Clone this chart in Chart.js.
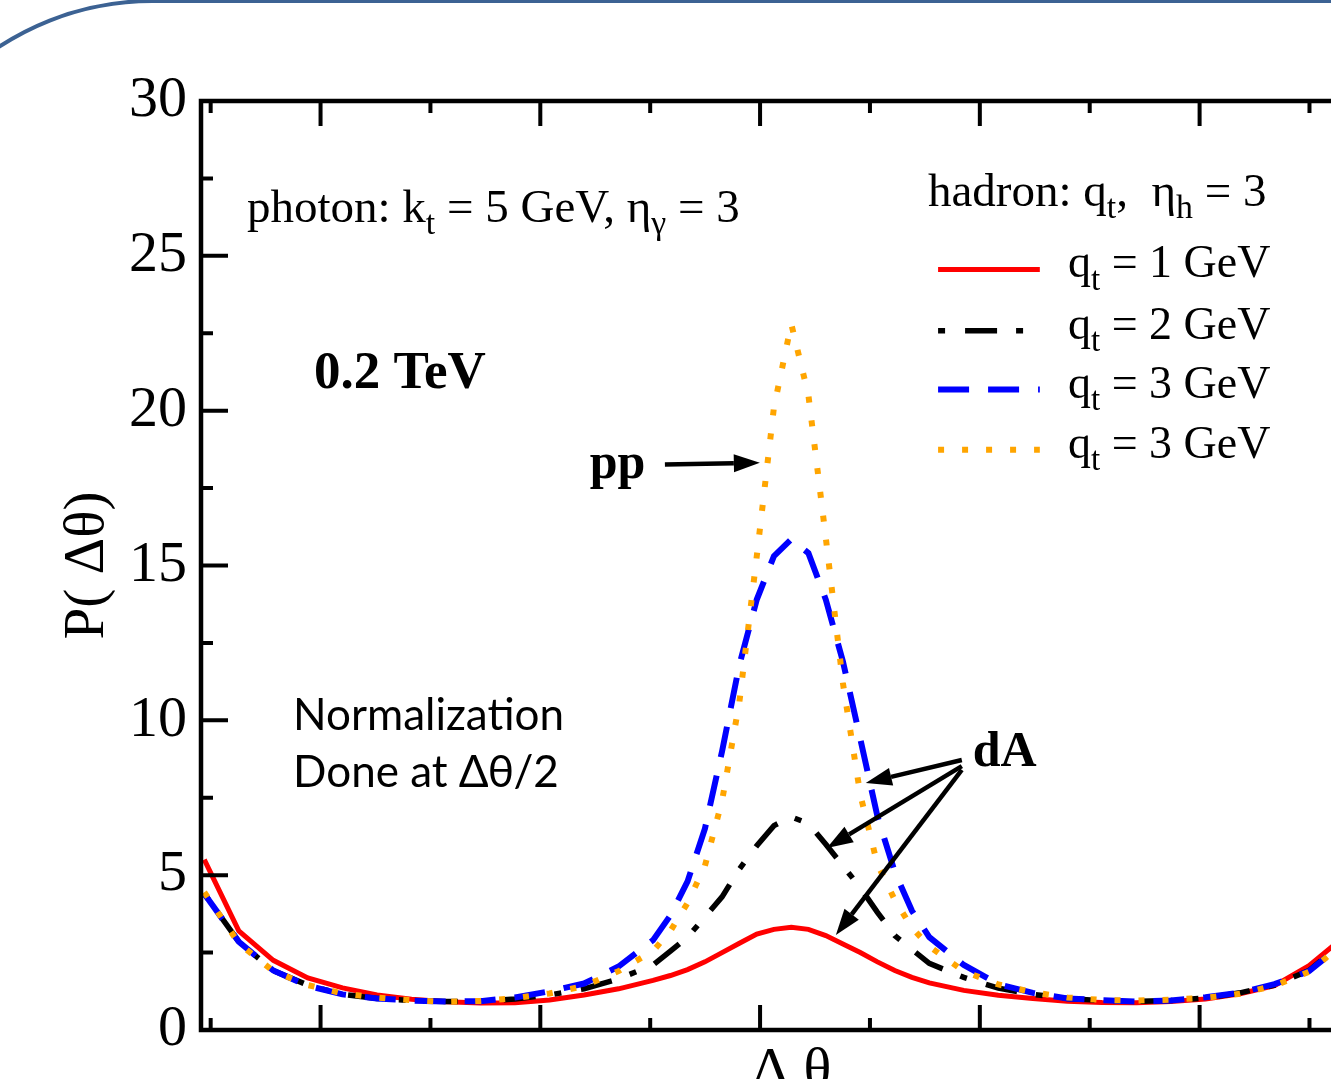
<!DOCTYPE html>
<html>
<head>
<meta charset="utf-8">
<script src="https://cdn.jsdelivr.net/npm/chart.js@4.4.1/dist/chart.umd.min.js"></script>
<style>
  html, body { margin: 0; padding: 0; overflow: hidden; background: #fff; }
  #wrap { position: relative; width: 1331px; height: 1079px; overflow: hidden; }
  #chart { position: absolute; left: 0; top: 0; }
  #frame { position: absolute; left: -128px; top: -1px; width: 3000px; height: 3000px;
           border: 4px solid #3c6293; border-top-left-radius: 280px; box-sizing: border-box; }
</style>
</head>
<body>
<div id="wrap">
  <canvas id="chart" width="1420" height="1160"></canvas>
  <div id="frame"></div>
</div>
<script>
// delta theta grid (rad)
const dTheta = [0.471,0.628,0.785,0.942,1.100,1.257,1.414,1.571,1.728,1.885,2.042,2.199,2.356,
  2.513,2.592,2.670,2.749,2.827,2.906,2.985,3.063,3.142,3.220,3.299,3.377,3.456,3.534,3.613,3.691,3.770,
  3.927,4.084,4.241,4.398,4.555,4.712,4.869,5.027,5.184,5.341,5.498,5.655,5.812];

// dA, qt = 1 GeV
const qt1 = [5.5,3.2,2.25,1.68,1.36,1.13,0.99,0.91,0.87,0.88,0.97,1.13,1.33,
  1.6,1.76,1.95,2.2,2.5,2.8,3.1,3.25,3.32,3.25,3.05,2.78,2.5,2.2,1.92,1.7,1.52,
  1.28,1.12,1.02,0.93,0.89,0.88,0.92,1.0,1.17,1.43,2.08,3.0,5.2];
// dA, qt = 2 GeV
const qt2 = [4.4,2.85,1.92,1.45,1.15,1.02,0.95,0.92,0.93,1.0,1.13,1.33,1.65,
  2.1,2.55,3.0,3.65,4.3,5.2,5.95,6.6,6.88,6.67,6.0,5.3,4.6,3.8,3.05,2.6,2.15,
  1.7,1.35,1.15,1.02,0.95,0.93,0.95,1.03,1.2,1.45,1.92,2.85,4.4];
// dA, qt = 3 GeV
const qt3 = [4.4,2.85,1.92,1.43,1.15,1.02,0.95,0.92,0.93,1.05,1.25,1.5,2.05,
  2.9,3.7,4.8,6.5,9.0,11.8,13.9,15.3,15.85,15.4,13.9,11.9,9.4,6.9,5.1,3.85,3.0,
  2.1,1.48,1.2,1.02,0.96,0.92,0.95,1.06,1.2,1.48,1.9,2.8,4.4];
// pp, qt = 3 GeV
const pp3 = [4.45,2.8,1.9,1.45,1.18,1.05,0.96,0.91,0.94,1.03,1.18,1.42,1.9,
  2.55,3.2,4.1,5.3,7.4,10.6,15.3,20.1,22.8,20.5,15.9,11.2,7.6,5.35,4.2,3.3,2.7,
  1.9,1.47,1.22,1.05,0.97,0.95,0.98,1.04,1.17,1.43,1.88,2.8,4.45];

const seriesLabels = ['q_t = 1 GeV', 'q_t = 2 GeV', 'q_t = 3 GeV', 'q_t = 3 GeV'];
const yMajor = [0, 5, 10, 15, 20, 25, 30];
const yMinor = [2.5, 7.5, 12.5, 17.5, 22.5, 27.5];
const xMajor = [1, 2, 3, 4, 5];
const xMinor = [0.5, 1.5, 2.5, 3.5, 4.5, 5.5];

const SERIF = '"Liberation Serif", "Times New Roman", serif';

function pts(ys) {
    return dTheta.map((x, i) => ({x: x, y: ys[i]}));
}

// text with "_c" meaning subscript c
function richText(ctx, str, x, y, size, bold) {
    const parts = str.split(/_(.)/);
    let cx = x;
    parts.forEach((p, i) => {
        const sub = i % 2 === 1;
        const s = sub ? size * 0.72 : size;
        ctx.font = (bold ? 'bold ' : '') + s + 'px ' + SERIF;
        ctx.fillText(p, cx, sub ? y + size * 0.27 : y);
        cx += ctx.measureText(p).width;
    });
}

function arrow(ctx, x0, y0, x1, y1) {
    const ang = Math.atan2(y1 - y0, x1 - x0);
    const hl = 26, hw = 9;
    const bx = x1 - hl * Math.cos(ang), by = y1 - hl * Math.sin(ang);
    ctx.beginPath();
    ctx.moveTo(x0, y0);
    ctx.lineTo(bx, by);
    ctx.stroke();
    ctx.beginPath();
    ctx.moveTo(x1, y1);
    ctx.lineTo(bx + hw * Math.sin(ang), by - hw * Math.cos(ang));
    ctx.lineTo(bx - hw * Math.sin(ang), by + hw * Math.cos(ang));
    ctx.closePath();
    ctx.fill();
}

const decor = {
    id: 'decor',
    afterDatasetsDraw(chart) {
        const {ctx, chartArea: a, scales: {x, y}} = chart;
        const px = v => x.getPixelForValue(v), py = v => y.getPixelForValue(v);
        ctx.save();
        ctx.strokeStyle = '#000';
        ctx.fillStyle = '#000';

        // frame + inward ticks
        ctx.lineWidth = 4.5;
        ctx.strokeRect(a.left, a.top, a.right - a.left, a.bottom - a.top);
        ctx.lineWidth = 4;
        ctx.beginPath();
        xMajor.forEach(v => {
            ctx.moveTo(px(v), a.bottom); ctx.lineTo(px(v), a.bottom - 25);
            ctx.moveTo(px(v), a.top); ctx.lineTo(px(v), a.top + 25);
        });
        xMinor.forEach(v => {
            ctx.moveTo(px(v), a.bottom); ctx.lineTo(px(v), a.bottom - 12);
            ctx.moveTo(px(v), a.top); ctx.lineTo(px(v), a.top + 12);
        });
        yMajor.forEach(v => {
            ctx.moveTo(a.left, py(v)); ctx.lineTo(a.left + 27, py(v));
            ctx.moveTo(a.right, py(v)); ctx.lineTo(a.right - 27, py(v));
        });
        yMinor.forEach(v => {
            ctx.moveTo(a.left, py(v)); ctx.lineTo(a.left + 12, py(v));
            ctx.moveTo(a.right, py(v)); ctx.lineTo(a.right - 12, py(v));
        });
        ctx.stroke();

        // annotations
        ctx.textBaseline = 'alphabetic';
        ctx.textAlign = 'left';
        richText(ctx, 'photon: k_t = 5 GeV, η_γ = 3', px(0.665), py(26.1), 47, false);
        richText(ctx, '0.2 TeV', px(0.970), py(20.74), 53, true);
        richText(ctx, 'pp', px(2.225), py(17.84), 50, true);
        richText(ctx, 'dA', px(3.968), py(8.53), 50, true);

        ctx.lineWidth = 4.5;
        arrow(ctx, px(2.567), py(18.26), px(2.999), py(18.32));
        arrow(ctx, px(3.918), py(8.72), px(3.481), py(7.98));
        arrow(ctx, px(3.918), py(8.52), px(3.304), py(5.88));
        arrow(ctx, px(3.918), py(8.40), px(3.345), py(3.07));

        // slide note
        ctx.font = '44px Lato, "Open Sans", sans-serif';
        ctx.fillText('Normalization', px(0.875), py(9.69));
        ctx.fillText('Done at Δθ/2', px(0.875), py(7.85));

        // legend
        richText(ctx, 'hadron: q_t,  η_h = 3', px(3.764), py(26.62), 47, false);
        const rowY = [24.56, 22.58, 20.68, 18.74];
        chart.data.datasets.forEach((ds, i) => {
            const ly = py(rowY[i]);
            ctx.save();
            ctx.strokeStyle = ds.borderColor;
            ctx.lineWidth = ds.borderWidth;
            ctx.setLineDash(ds.borderDash || []);
            ctx.beginPath();
            ctx.moveTo(px(3.81), ly);
            ctx.lineTo(px(4.273), ly);
            ctx.stroke();
            ctx.restore();
            richText(ctx, seriesLabels[i], px(4.401), ly + 8, 46, false);
        });
        ctx.restore();
    }
};

const config = {
    type: 'line',
    data: {
        datasets: [
            { label: 'q_t = 1 GeV', data: pts(qt1), borderColor: '#ff0000', borderWidth: 5,
              borderDash: [], order: 4 },
            { label: 'q_t = 2 GeV', data: pts(qt2), borderColor: '#000000', borderWidth: 5.5,
              borderDash: [7, 20, 32, 19], order: 3 },
            { label: 'q_t = 3 GeV', data: pts(qt3), borderColor: '#0000ff', borderWidth: 6,
              borderDash: [31, 19], order: 2 },
            { label: 'pp q_t = 3 GeV', data: pts(pp3), borderColor: '#ffa500', borderWidth: 6,
              borderDash: [6, 18], order: 1 }
        ]
    },
    options: {
        responsive: false,
        animation: false,
        events: [],
        elements: { point: { radius: 0 }, line: { tension: 0, fill: false } },
        layout: { padding: { top: 101, right: 38, left: 0, bottom: 0 } },
        plugins: { legend: { display: false }, tooltip: { enabled: false } },
        scales: {
            x: {
                type: 'linear',
                min: 0.456,
                max: 5.83,
                grid: { display: false, drawTicks: false },
                border: { display: false },
                ticks: { display: false },
                title: { display: true, text: 'Δ θ', color: '#000',
                         font: { family: SERIF, size: 58 }, padding: { top: 0, bottom: 53 } },
                afterFit: s => { s.height = 130; }
            },
            y: {
                min: 0,
                max: 30,
                grid: { display: false, drawTicks: false },
                border: { display: false },
                afterBuildTicks: s => { s.ticks = yMajor.map(v => ({ value: v })); },
                ticks: { color: '#000', padding: 14, font: { family: SERIF, size: 58 } },
                title: { display: true, text: 'P( Δθ)', color: '#000',
                         font: { family: SERIF, size: 57 }, padding: { top: 54, bottom: 0 } },
                afterFit: s => { s.width = 201; }
            }
        }
    },
    plugins: [decor]
};

new Chart(document.getElementById('chart'), config);
</script>
</body>
</html>
